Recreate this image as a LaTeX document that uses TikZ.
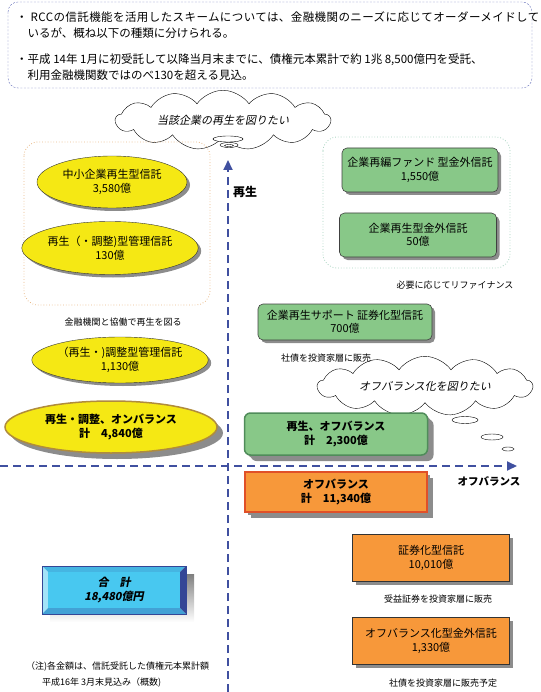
\documentclass[tikz,border=0pt]{standalone}
\usepackage{fontspec}
\setmainfont{Noto Sans CJK JP}
\newfontfamily\jpslant[FakeSlant=0.2]{Noto Sans CJK JP}
\newfontfamily\jpwide[LetterSpace=3.6]{Noto Sans CJK JP}
\usetikzlibrary{arrows.meta,shapes.geometric,shapes.symbols,shadows}

\definecolor{axisblue}{RGB}{64,80,160}
\definecolor{framblue}{RGB}{100,110,185}
\definecolor{lemon}{RGB}{245,232,20}
\definecolor{gold}{RGB}{176,140,60}
\definecolor{leaf}{RGB}{136,200,136}
\definecolor{leafdark}{RGB}{80,140,90}
\definecolor{tangerine}{RGB}{247,152,58}
\definecolor{brick}{RGB}{224,80,40}
\definecolor{shade}{RGB}{140,140,140}
\definecolor{sky}{RGB}{72,200,240}
\definecolor{navy}{RGB}{52,70,150}
\definecolor{peach}{RGB}{232,185,135}
\definecolor{mint}{RGB}{165,210,190}

\begin{document}
\begin{tikzpicture}[
        x=1pt, y=-1pt,
        >={Triangle[length=10pt,width=9pt]},
        font=\fontsize{11}{13.5}\selectfont,
        axis/.style={axisblue, line width=2pt, dash pattern=on 8pt off 5pt, ->},
        group box/.style={dotted, thick, rounded corners=14pt},
        shadowed/.style={drop shadow={shadow xshift=#1, shadow yshift=-#1,
            fill=shade, opacity=1}},
        trust oval/.style={ellipse, draw=black!80, fill=lemon, inner sep=0pt,
            align=center, shadowed=3pt},
        trust green/.style={rectangle, rounded corners=5pt, draw=black!75, semithick,
            fill=leaf, align=center, inner sep=0pt, shadowed=3pt},
        trust orange/.style={rectangle, draw=black!80, semithick, fill=tangerine,
            align=center, inner sep=0pt, shadowed=3pt},
        remark/.style={font=\fontsize{9}{11}\selectfont},
        summary/.style={anchor=west, align=left, inner sep=0pt,
            font=\fontsize{11.5}{15.5}\selectfont},
        wish/.style={cloud, cloud puffs=13, cloud puff arc=110, aspect=5, draw,
            fill=white, inner sep=0pt, font=\jpslant\fontsize{11}{13}\selectfont},
        bubble/.style={draw, fill=white}
      ]

      \useasboundingbox (0,0) rectangle (540,692);

      % summary at the top
      \draw[framblue, dashed, dash pattern=on 2pt off 1.5pt, rounded corners=10pt]
        (8,2) rectangle (532,88);
      \node[summary] (note1) at (16,25)
        {{\jpwide ・ RCCの信託機能を活用したスキームについては、金融機関のニーズに応じてオーダーメイドして}\\
         \hspace*{1em}いるが、概ね以下の種類に分けられる。};
      \node[summary] (note2) at (16,67)
        {・平成 14年 1月に初受託して以降当月末までに、債権元本累計で約 1兆 8,500億円を受託、\\
         \hspace*{1em}利用金融機関数ではのべ130を超える見込。};

      % axes
      \coordinate (Vbot) at (228,692);
      \coordinate (Vtop) at (228,160);
      \coordinate (Hleft) at (0,466);
      \coordinate (Hright) at (517,466);
      \draw[axis] (Vbot) -- (Vtop);
      \draw[axis] (Hleft) -- (Hright);
      \node[font=\bfseries\fontsize{12}{14}\selectfont] (regen) at (245,192) {再生};
      \node[font=\bfseries\fontsize{10.5}{12}\selectfont] (offbal) at (489,481) {オフバランス};

      % thought clouds
      \node[wish, minimum width=215pt, minimum height=40pt] (wish1) at (223,120)
        {当該企業の再生を図りたい};
      \foreach \cx/\cy/\rx/\ry in {228/139/15/3, 229/145/9/2.5, 229/145.5/4.5/1} {
        \draw[bubble] (\cx,\cy) ellipse [x radius=\rx, y radius=\ry];
      }
      \node[wish, minimum width=215pt, minimum height=42pt] (wish2) at (425,386)
        {オフバランス化を図りたい};
      \foreach \cx/\cy/\rx/\ry in {465/420/13/3.5, 492/437/11/3, 508/449/6/2} {
        \draw[bubble] (\cx,\cy) ellipse [x radius=\rx, y radius=\ry];
      }

      % regeneration in cooperation with banks
      \draw[group box, peach] (24,142) rectangle (210,305);
      \node[trust oval, minimum width=150pt, minimum height=52pt] (smeTrust) at (112,182)
        {中小企業再生型信託\\3,580億};
      \node[trust oval, minimum width=150pt, minimum height=53pt] (regenMgmt) at (110,248)
        {再生（・調整)型管理信託\\130億};
      \node[remark] (coop) at (123,322) {金融機関と協働で再生を図る};
      \node[trust oval, minimum width=144pt, minimum height=46pt] (adjMgmt) at (120,360)
        {（再生・)調整型管理信託\\1,130億};
      \node[trust oval, draw=gold, line width=1.5pt, minimum width=212pt, minimum height=52pt,
            shadowed=6pt, font=\bfseries\fontsize{11}{13.5}\selectfont] (onTotal) at (111,427)
        {再生・調整、オンバランス\\計　4,840億};

      % refinance group
      \draw[group box, mint] (323,137) rectangle (510,268);
      \node[trust green, minimum width=156pt, minimum height=44pt] (fundTrust) at (420,170)
        {企業再編ファンド 型金外信託\\1,550億};
      \node[trust green, minimum width=157pt, minimum height=44pt] (regenTrust) at (418,235)
        {企業再生型金外信託\\50億};
      \node[remark] (refin) at (455,285) {必要に応じてリファイナンス};

      \node[trust green, minimum width=174pt, minimum height=36pt] (supportTrust) at (345,322)
        {企業再生サポート 証券化型信託\\700億};
      \node[remark] (bondSale) at (326,358) {社債を投資家層に販売};

      \node[trust green, draw=leafdark, line width=1.5pt, rounded corners=6pt,
            minimum width=183pt, minimum height=42pt, shadowed=6pt,
            font=\bfseries\fontsize{11}{13.5}\selectfont] (offRegen) at (336,434)
        {再生、オフバランス\\計　2,300億};

      % off-balance
      \node[trust orange, draw=brick, line width=1.5pt, minimum width=182pt, minimum height=40pt,
            shadowed=6pt, font=\bfseries\fontsize{11}{13.5}\selectfont] (offTotal) at (336,492)
        {オフバランス\\計　11,340億};
      \node[trust orange, minimum width=157pt, minimum height=47pt] (secTrust) at (431,558)
        {証券化型信託\\10,010億};
      \node[remark] (benefitSale) at (438,599) {受益証券を投資家層に販売};
      \node[trust orange, minimum width=157pt, minimum height=47pt] (offTrust) at (431,641)
        {オフバランス化型金外信託\\1,330億};
      \node[remark] (bondPlan) at (443,683) {社債を投資家層に販売予定};

      % grand total, bevelled
      \fill[shade] (50,574) rectangle (194,622);
      \coordinate (oA) at (42,566); \coordinate (oB) at (186,566);
      \coordinate (oC) at (186,614); \coordinate (oD) at (42,614);
      \coordinate (iA) at (48,572); \coordinate (iB) at (180,572);
      \coordinate (iC) at (180,608); \coordinate (iD) at (48,608);
      \fill[sky!85!navy] (oA) -- (oB) -- (iB) -- (iA) -- cycle;
      \fill[sky!50!white] (oA) -- (iA) -- (iD) -- (oD) -- cycle;
      \fill[navy] (oB) -- (oC) -- (iC) -- (iB) -- cycle;
      \fill[sky!70!navy] (oD) -- (iD) -- (iC) -- (oC) -- cycle;
      \fill[sky] (iA) rectangle (iC);
      \draw[navy, thick] (oA) rectangle (oC);
      \node[align=center, font=\bfseries\jpslant\fontsize{11}{14}\selectfont] (grandTotal)
        at (114,590) {合　計\\18,480億円};

      % footnote
      \node[remark, anchor=west, inner sep=0pt] (fn1) at (26,667) {（注)各金額は、信託受託した債権元本累計額};
      \node[remark, anchor=west, inner sep=0pt] (fn2) at (42,683) {平成16年 3月末見込み（概数)};
    \end{tikzpicture}
\end{document}
